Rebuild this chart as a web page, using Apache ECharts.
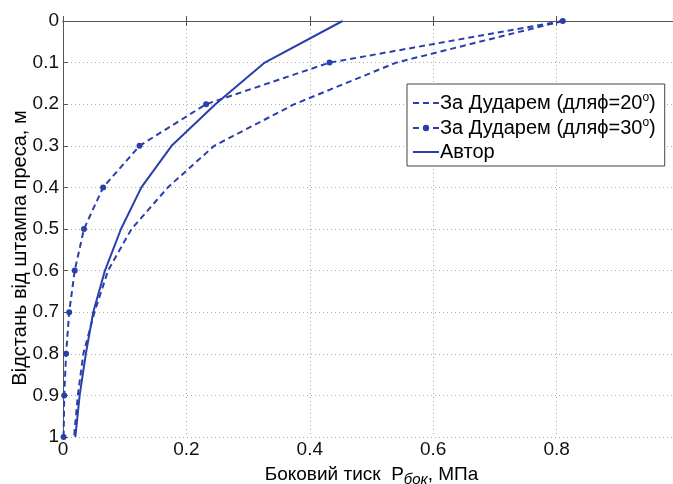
<!DOCTYPE html>
<html>
<head>
<meta charset="utf-8">
<script src="https://cdn.jsdelivr.net/npm/echarts@6/dist/echarts.min.js"></script>
<style>
html,body{margin:0;padding:0;background:#fff;}
#c{width:673px;height:484px;}
</style>
</head>
<body>
<div id="c"></div>
<script>
// Depth (m) – y values
var depth = [0, 0.1, 0.2, 0.3, 0.4, 0.5, 0.6, 0.7, 0.8, 0.9, 1.0];
// Lateral pressure (MPa) – x values
var dudar20 = [0.81, 0.54, 0.375, 0.245, 0.17, 0.111, 0.073, 0.051, 0.033, 0.024, 0.018];
var dudar30 = [0.81, 0.432, 0.232, 0.124, 0.065, 0.034, 0.019, 0.01, 0.005, 0.002, 0.001];
var author  = [0.453, 0.327, 0.247, 0.176, 0.127, 0.094, 0.068, 0.049, 0.037, 0.027, 0.02];
var seriesNames = ['За Дударем (дляϕ=20', 'За Дударем (дляϕ=30', 'Автор'];
var xTicks = [0, 0.2, 0.4, 0.6, 0.8, 1];
var yTicks = [0, 0.1, 0.2, 0.3, 0.4, 0.5, 0.6, 0.7, 0.8, 0.9, 1];

var blue = '#2a3fab';
function pairs(vals){ return depth.map(function(d,i){ return [vals[i], d]; }); }
function fmt(v){ var r = Math.round(v*10)/10; return r === 0 ? '0' : (r === 1 ? '1' : String(r)); }

var chart = echarts.init(document.getElementById('c'), null, {renderer:'canvas'});
var font = 'Arial, "Liberation Sans", sans-serif';
chart.setOption({
  animation: false,
  backgroundColor: '#fff',
  grid: {left: 63, top: 21, width: 617, height: 416, outerBoundsMode: 'none', containLabel: false, show: false},
  legend: {
    orient: 'vertical', left: 407, top: 84,
    padding: [8, 9, 4, 5],
    itemGap: 4, itemWidth: 26, itemHeight: 8,
    borderColor: '#444', borderWidth: 1, backgroundColor: '#fff',
    data: [
      {name: seriesNames[0], itemStyle: {opacity: 0}},
      {name: seriesNames[1]},
      {name: seriesNames[2], itemStyle: {opacity: 0}}
    ],
    formatter: function(n){
      if (n === 'Автор') return '{t|Автор}';
      return '{t|' + n + '}{s|o}{t|)}';
    },
    textStyle: {
      fontFamily: font, fontSize: 20, color: '#000', padding: [0,0,0,-4],
      rich: {
        t: {fontFamily: font, fontSize: 20, color: '#000'},
        s: {fontFamily: font, fontSize: 12, color: '#000', verticalAlign: 'top', padding: [0,0,10,0]}
      }
    }
  },
  xAxis: [{
    type: 'value', min: xTicks[0], max: xTicks[xTicks.length-1], interval: 0.2,
    axisLine: {show: true, lineStyle: {color: '#555', width: 1}},
    axisTick: {show: true, inside: true, length: 5, lineStyle: {color: '#555'}},
    axisLabel: {fontFamily: font, fontSize: 19, color: '#111', margin: 3, formatter: fmt},
    splitLine: {show: true, lineStyle: {color: '#aaa', type: [1, 3], width: 1}},
    name: '{t|Боковий тиск  P}{sub|бок}{t|, МПа}',
    nameLocation: 'middle', nameGap: 25, nameMoveOverlap: false,
    nameTextStyle: {
      fontFamily: font, fontSize: 19, color: '#000',
      rich: {
        t: {fontFamily: font, fontSize: 19, color: '#000'},
        sub: {fontFamily: font, fontSize: 15, fontStyle: 'italic', color: '#000', padding: [10,0,0,0]}
      }
    }
  }, {
    type: 'value', position: 'top', min: xTicks[0], max: xTicks[xTicks.length-1], interval: 0.2,
    axisLine: {show: true, onZero: false, lineStyle: {color: '#555', width: 1}},
    axisTick: {show: true, inside: true, length: 5, lineStyle: {color: '#555'}},
    axisLabel: {show: false},
    splitLine: {show: false}
  }],
  yAxis: {
    type: 'value', inverse: true, min: yTicks[0], max: yTicks[yTicks.length-1], interval: 0.1,
    axisLine: {show: true, lineStyle: {color: '#555', width: 1}},
    axisTick: {show: true, inside: true, length: 5, lineStyle: {color: '#555'}},
    axisLabel: {fontFamily: font, fontSize: 19, color: '#111', margin: 4, formatter: fmt},
    splitLine: {show: true, lineStyle: {color: '#aaa', type: [1, 3], width: 1}},
    name: 'Відстань від штампа преса, м',
    nameLocation: 'middle', nameGap: 33, nameRotate: 90, nameMoveOverlap: false,
    nameTextStyle: {fontFamily: font, fontSize: 20, color: '#000', padding: [0, 38, 0, 0]}
  },
  series: [
    {name: seriesNames[0], type: 'line', data: pairs(dudar20), symbol: 'none', clip: false,
     lineStyle: {color: blue, width: 2, type: [6, 4]}, itemStyle: {color: blue}},
    {name: seriesNames[1], type: 'line', data: pairs(dudar30), symbol: 'circle', symbolSize: 6, clip: false,
     lineStyle: {color: blue, width: 2, type: [6, 4]}, itemStyle: {color: blue}},
    {name: seriesNames[2], type: 'line', data: pairs(author), symbol: 'none', clip: false,
     lineStyle: {color: blue, width: 2}, itemStyle: {color: blue}}
  ]
});
</script>
</body>
</html>
